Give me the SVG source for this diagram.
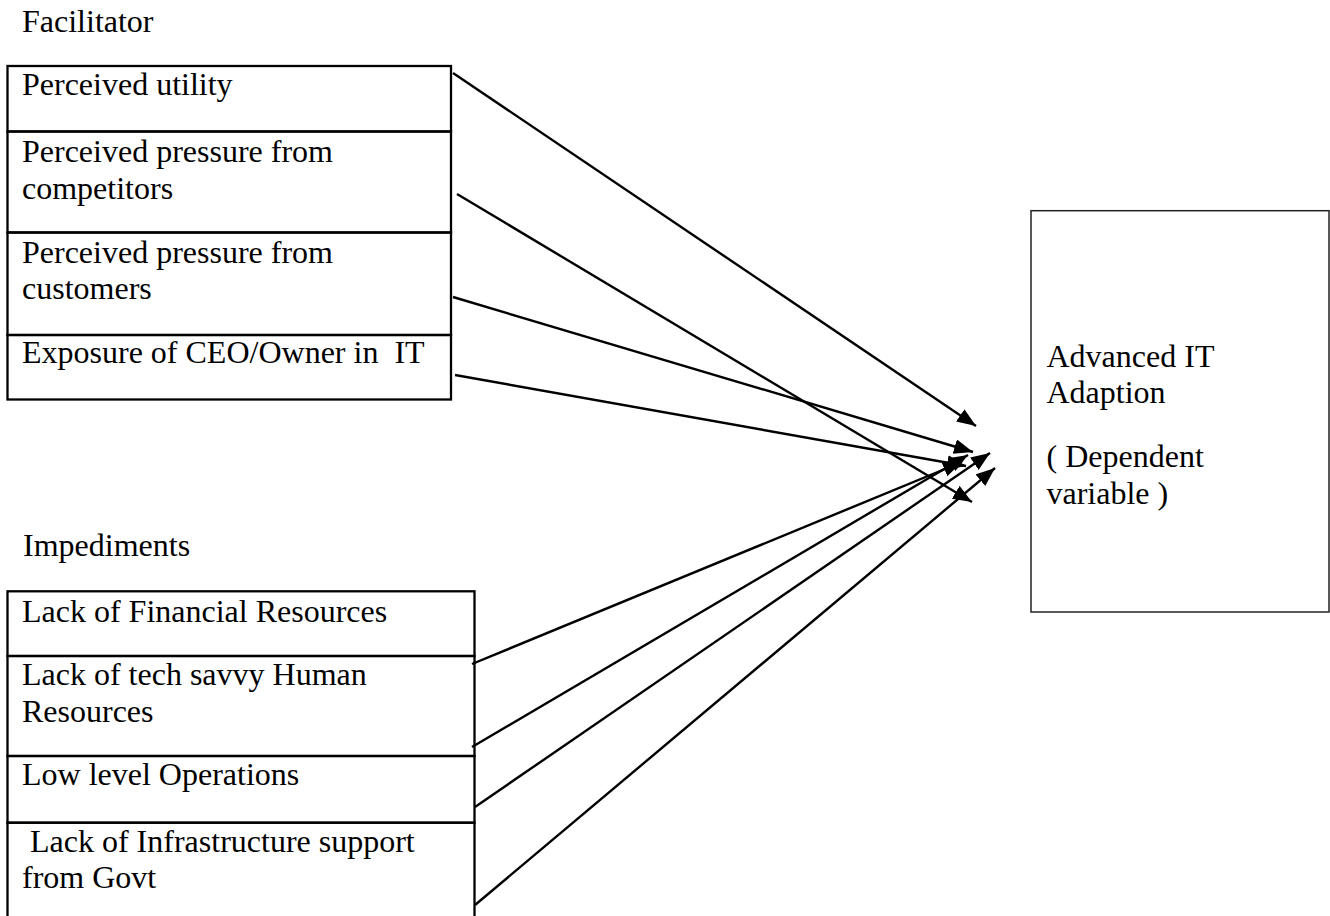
<svg xmlns="http://www.w3.org/2000/svg" width="1330" height="916" viewBox="0 0 1330 916">
<style>
text{font-family:"Liberation Serif","Times New Roman",serif;font-size:32px;fill:#000}
.cell{fill:none;stroke:#000;stroke-width:2.3}
.box{fill:none;stroke:#222;stroke-width:1.5}
.conn{stroke:#000;stroke-width:2.4;fill:none;marker-end:url(#ah)}
</style>
<defs>
<marker id="ah" markerUnits="userSpaceOnUse" markerWidth="20" markerHeight="16" refX="19" refY="7.5" orient="auto">
<path d="M0,0 L19,7.5 L0,15 z" fill="#000"/>
</marker>
</defs>
<rect width="1330" height="916" fill="#fff"/>
<g id="label-facilitator"><text x="22" y="31.5">Facilitator</text></g>
<g id="label-impediments"><text x="23" y="556">Impediments</text></g>
<g id="n-utility"><rect class="cell" x="7.5" y="66" width="443.5" height="65.5"/><text x="22" y="95">Perceived utility</text></g>
<g id="n-competitors"><rect class="cell" x="7.5" y="131.5" width="443.5" height="101"/><text x="22" y="162">Perceived pressure from</text><text x="22" y="198.5">competitors</text></g>
<g id="n-customers"><rect class="cell" x="7.5" y="232.5" width="443.5" height="102.5"/><text x="22" y="262.7">Perceived pressure from</text><text x="22" y="299.3">customers</text></g>
<g id="n-exposure"><rect class="cell" x="7.5" y="335" width="443.5" height="64.5"/><text x="22" y="362.7" xml:space="preserve">Exposure of CEO/Owner in  IT</text></g>
<g id="n-financial"><rect class="cell" x="7.5" y="591.3" width="467" height="64.7"/><text x="22" y="621.7">Lack of Financial Resources</text></g>
<g id="n-human"><rect class="cell" x="7.5" y="656" width="467" height="100"/><text x="22" y="685">Lack of tech savvy Human</text><text x="22" y="721.7">Resources</text></g>
<g id="n-operations"><rect class="cell" x="7.5" y="756" width="467" height="66.7"/><text x="22" y="785">Low level Operations</text></g>
<g id="n-infrastructure"><rect class="cell" x="7.5" y="822.7" width="467" height="120"/><text x="22" y="851.7" xml:space="preserve"> Lack of Infrastructure support</text><text x="22" y="888.3">from Govt</text></g>
<g id="n-adoption"><rect class="box" x="1031" y="210.7" width="298" height="401.3"/><text x="1046.5" y="366.7">Advanced IT</text><text x="1046.5" y="403">Adaption</text><text x="1046.5" y="466.7">( Dependent</text><text x="1046.5" y="504">variable )</text></g>
<g id="connectors">
<line class="conn" x1="453" y1="73" x2="976" y2="426"/>
<line class="conn" x1="457" y1="194" x2="972" y2="502"/>
<line class="conn" x1="453" y1="297" x2="973" y2="452"/>
<line class="conn" x1="455" y1="375" x2="966" y2="466"/>
<line class="conn" x1="472" y1="664" x2="962" y2="462"/>
<line class="conn" x1="472" y1="747" x2="968" y2="455"/>
<line class="conn" x1="475" y1="807" x2="990" y2="453"/>
<line class="conn" x1="475" y1="905" x2="995" y2="468"/>
</g>
</svg>
